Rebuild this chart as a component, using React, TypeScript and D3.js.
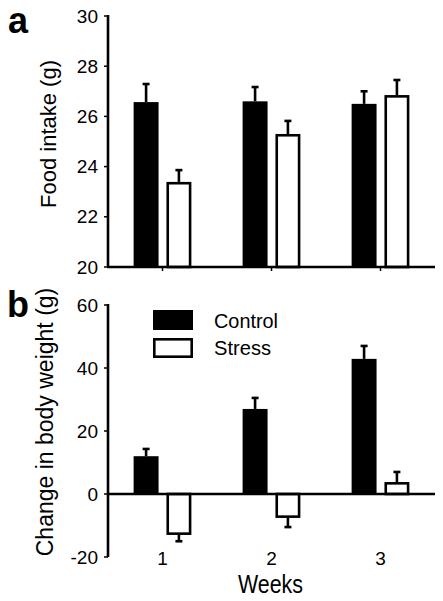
import React from "react";
import * as d3 from "d3";

const weeks = ["1", "2", "3"];
const series = ["Control", "Stress"];
const foodMean = [
  [26.57, 23.39],
  [26.6, 25.3],
  [26.5, 26.85],
];
const foodErr = [
  [0.72, 0.47],
  [0.57, 0.52],
  [0.5, 0.6],
];
const bwMean = [
  [12.0, -13.0],
  [27.0, -7.6],
  [42.9, 3.8],
];
const bwErr = [
  [2.3, 2.0],
  [3.5, 2.9],
  [4.1, 3.2],
];
const foodTicks = [20, 22, 24, 26, 28, 30];
const bwTicks = [-20, 0, 20, 40, 60];

const FONT = "'Liberation Sans', Arial, Helvetica, sans-serif";
const fills = ["#000", "#fff"];

export default function App() {
  const x0 = d3.scaleBand<string>().domain(weeks).range([108, 435]).paddingInner(0.47).paddingOuter(0.235);
  const x1 = d3.scaleBand<string>().domain(series).range([0, x0.bandwidth()]).paddingInner(0.24);
  const yA = d3.scaleLinear().domain([20, 30]).range([267, 16]);
  const yB = d3.scaleLinear().domain([-20, 60]).range([557, 305]);
  const axisX0 = 108;
  const sw = 2.6;

  const bars = (
    means: number[][],
    errs: number[][],
    y: d3.ScaleLinear<number, number>,
    base: number
  ) =>
    weeks.map((w, gi) =>
      series.map((s, si) => {
        const v = means[gi][si];
        const e = errs[gi][si];
        const bx = (x0(w) as number) + (x1(s) as number);
        const bw = x1.bandwidth();
        const top = Math.min(y(v), y(base));
        const h = Math.abs(y(v) - y(base));
        const cx = bx + bw / 2;
        const ev = v >= base ? v + e : v - e;
        const inset = si === 1 ? sw / 2 : 0;
        return (
          <g key={`${gi}-${si}`}>
            <line x1={cx} x2={cx} y1={y(v)} y2={y(ev)} stroke="#000" strokeWidth={sw} />
            <line x1={cx - 3.5} x2={cx + 3.5} y1={y(ev)} y2={y(ev)} stroke="#000" strokeWidth={sw} />
            <rect
              x={bx + inset}
              y={top + (v >= base ? inset : 0)}
              width={bw - 2 * inset}
              height={Math.max(0, h - inset)}
              fill={fills[si]}
              stroke={si === 1 ? "#000" : "none"}
              strokeWidth={sw}
            />
          </g>
        );
      })
    );

  return (
    <svg width={443} height={601} style={{ position: "absolute", left: 0, top: 0, background: "#fff" }} fontFamily={FONT}>
      <rect x={0} y={0} width={443} height={601} fill="#fff" />
      {/* Panel a */}
      <text x={8} y={33} fontSize={36} fontWeight="bold">a</text>
      {bars(foodMean, foodErr, yA, 20)}
      <line x1={axisX0} x2={axisX0} y1={yA(30) - 1} y2={yA(20)} stroke="#000" strokeWidth={sw} />
      <line x1={axisX0 - 1} x2={435} y1={yA(20)} y2={yA(20)} stroke="#000" strokeWidth={sw} />
      {foodTicks.map((t) => (
        <g key={t}>
          <line x1={axisX0 - 4} x2={axisX0} y1={yA(t)} y2={yA(t)} stroke="#000" strokeWidth={1.5} />
          <text x={axisX0 - 10} y={yA(t)} dy="0.35em" textAnchor="end" fontSize={19}>{t}</text>
        </g>
      ))}
      {weeks.map((w) => (
        <line key={w} x1={(x0(w) as number) + x0.bandwidth() / 2} x2={(x0(w) as number) + x0.bandwidth() / 2} y1={yA(20)} y2={yA(20) + 4} stroke="#000" strokeWidth={1.5} />
      ))}
      <text transform={`translate(56,134) rotate(-90)`} textAnchor="middle" fontSize={22}>Food intake (g)</text>

      {/* Panel b */}
      <text x={7} y={317} fontSize={36} fontWeight="bold">b</text>
      {bars(bwMean, bwErr, yB, 0)}
      <line x1={axisX0} x2={axisX0} y1={yB(60) - 1} y2={yB(-20)} stroke="#000" strokeWidth={sw} />
      <line x1={axisX0 - 1} x2={435} y1={yB(0)} y2={yB(0)} stroke="#000" strokeWidth={sw} />
      {bwTicks.map((t) => (
        <g key={t}>
          <line x1={axisX0 - 4} x2={axisX0} y1={yB(t)} y2={yB(t)} stroke="#000" strokeWidth={1.5} />
          <text x={axisX0 - 10} y={yB(t)} dy="0.35em" textAnchor="end" fontSize={19}>{t}</text>
        </g>
      ))}
      {weeks.map((w) => (
        <text key={w} x={(x0(w) as number) + x0.bandwidth() / 2} y={yB(-20) + 1.5} dy="0.35em" textAnchor="middle" fontSize={19}>{w}</text>
      ))}
      <text x={270.5} y={593} textAnchor="middle" fontSize={25} textLength={65} lengthAdjust="spacingAndGlyphs">Weeks</text>
      <text transform={`translate(53,422) rotate(-90)`} textAnchor="middle" fontSize={23}>Change in body weight (g)</text>

      {/* Legend */}
      {series.map((s, i) => (
        <g key={s}>
          <rect x={153 + (i ? 1.3 : 0)} y={310 + i * 28 + (i ? 1.3 : 0)} width={40 - (i ? 2.6 : 0)} height={20 - (i ? 2.6 : 0)} fill={fills[i]} stroke={i ? "#000" : "none"} strokeWidth={sw} />
          <text x={214} y={320.5 + i * 27} dy="0.35em" fontSize={21} textLength={i ? 57 : 64} lengthAdjust="spacingAndGlyphs">{s}</text>
        </g>
      ))}
    </svg>
  );
}
